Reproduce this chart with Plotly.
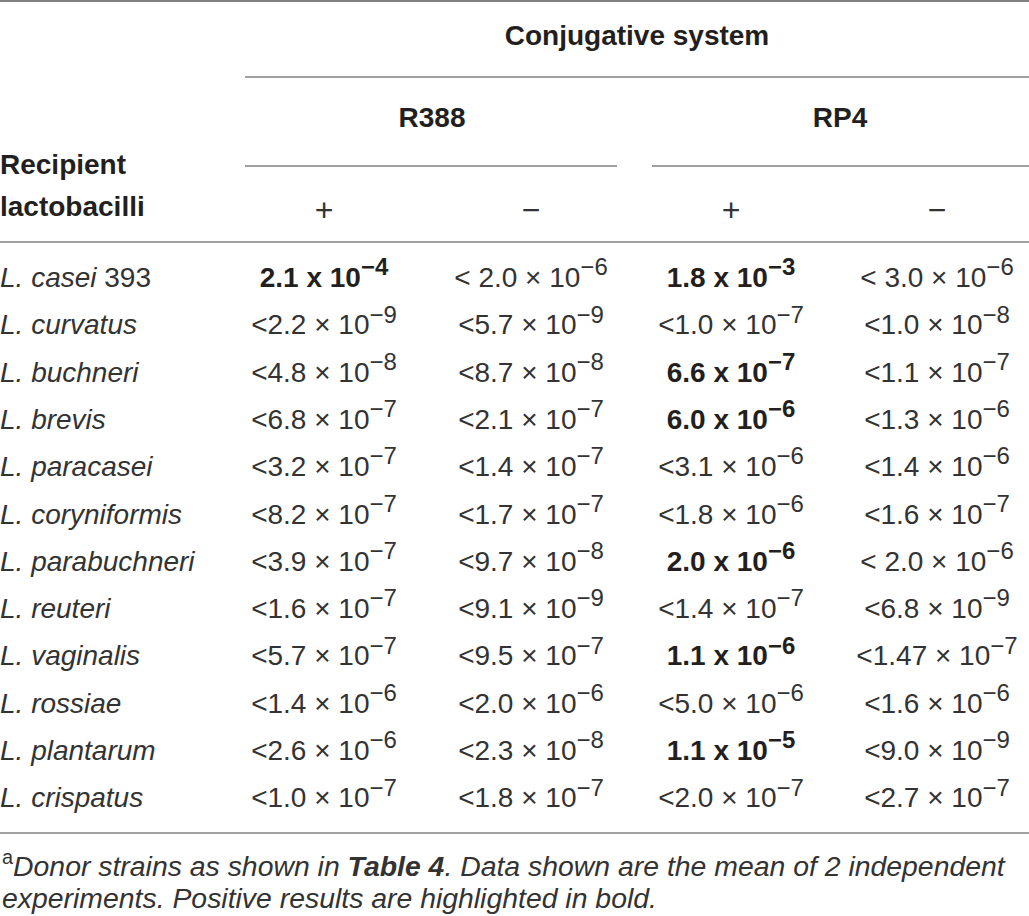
import plotly.graph_objects as go

# ---------------- data ----------------
species = ["casei", "curvatus", "buchneri", "brevis", "paracasei", "coryniformis",
           "parabuchneri", "reuteri", "vaginalis", "rossiae", "plantarum", "crispatus"]
species_suffix = [" 393", "", "", "", "", "", "", "", "", "", "", ""]

# each column: prefix, mantissa, exponent, positive(bold)
r388_plus_prefix = ["", "<", "<", "<", "<", "<", "<", "<", "<", "<", "<", "<"]
r388_plus_mant = ["2.1", "2.2", "4.8", "6.8", "3.2", "8.2", "3.9", "1.6", "5.7", "1.4", "2.6", "1.0"]
r388_plus_exp = [-4, -9, -8, -7, -7, -7, -7, -7, -7, -6, -6, -7]
r388_plus_pos = [True, False, False, False, False, False, False, False, False, False, False, False]

r388_minus_prefix = ["< ", "<", "<", "<", "<", "<", "<", "<", "<", "<", "<", "<"]
r388_minus_mant = ["2.0", "5.7", "8.7", "2.1", "1.4", "1.7", "9.7", "9.1", "9.5", "2.0", "2.3", "1.8"]
r388_minus_exp = [-6, -9, -8, -7, -7, -7, -8, -9, -7, -6, -8, -7]
r388_minus_pos = [False] * 12

rp4_plus_prefix = ["", "<", "", "", "<", "<", "", "<", "", "<", "", "<"]
rp4_plus_mant = ["1.8", "1.0", "6.6", "6.0", "3.1", "1.8", "2.0", "1.4", "1.1", "5.0", "1.1", "2.0"]
rp4_plus_exp = [-3, -7, -7, -6, -6, -6, -6, -7, -6, -6, -5, -7]
rp4_plus_pos = [True, False, True, True, False, False, True, False, True, False, True, False]

rp4_minus_prefix = ["< ", "<", "<", "<", "<", "<", "< ", "<", "<", "<", "<", "<"]
rp4_minus_mant = ["3.0", "1.0", "1.1", "1.3", "1.4", "1.6", "2.0", "6.8", "1.47", "1.6", "9.0", "2.7"]
rp4_minus_exp = [-6, -8, -7, -6, -6, -7, -6, -9, -7, -6, -9, -7]
rp4_minus_pos = [False] * 12

group_labels = ["R388", "RP4"]
sign_labels = ["+", "\u2212", "+", "\u2212"]
header_title = "Conjugative system"
stub_header = ["Recipient", "lactobacilli"]
footnote_lines = [
    "<sup>a</sup><i>Donor strains as shown in <b>Table 4</b>. Data shown are the mean of 2 independent</i>",
    "<i>experiments. Positive results are highlighted in bold.</i>",
]

# ---------------- layout constants ----------------
W, H = 1029, 916
FONT = "Liberation Sans, Arial, sans-serif"
COLOR = "#231f20"
LIGHT = "#333333"
LINE = "#808080"
FS = 28
col_x = [324, 531, 731, 937]
group_x = [432, 840]
row0, row_step = 280, 47.3


def fmt(prefix, mant, exp, pos):
    e = str(exp).replace("-", "\u2212")
    sup = f"<sup><span style='font-size:24px'>{e}</span></sup>"
    if pos:
        return f"<b>{mant} x 10{sup}</b>"
    return f"{prefix}{mant} \u00d7 10{sup}"


columns = [
    (r388_plus_prefix, r388_plus_mant, r388_plus_exp, r388_plus_pos),
    (r388_minus_prefix, r388_minus_mant, r388_minus_exp, r388_minus_pos),
    (rp4_plus_prefix, rp4_plus_mant, rp4_plus_exp, rp4_plus_pos),
    (rp4_minus_prefix, rp4_minus_mant, rp4_minus_exp, rp4_minus_pos),
]

row_y = [row0 + i * row_step for i in range(len(species))]

fig = go.Figure()

# row labels
fig.add_trace(go.Scatter(
    x=[0] * len(species), y=row_y, mode="text",
    text=[f"<i>L. {s}</i>{suf}" for s, suf in zip(species, species_suffix)],
    textposition="middle right",
    textfont=dict(family=FONT, size=FS, color=LIGHT),
    hoverinfo="skip", showlegend=False))

# data cells
for cx, (pre, man, ex, pos) in zip(col_x, columns):
    fig.add_trace(go.Scatter(
        x=[cx] * len(species), y=row_y, mode="text",
        text=[fmt(p, m, e, b) for p, m, e, b in zip(pre, man, ex, pos)],
        textposition="middle center",
        textfont=dict(family=FONT, size=FS, color=[COLOR if b else LIGHT for b in pos]),
        hoverinfo="skip", showlegend=False))

# headers
fig.add_trace(go.Scatter(
    x=[637] + group_x, y=[38, 120, 120], mode="text",
    text=[f"<b>{header_title}</b>"] + [f"<b>{g}</b>" for g in group_labels],
    textposition="middle center",
    textfont=dict(family=FONT, size=FS, color=COLOR),
    hoverinfo="skip", showlegend=False))

fig.add_trace(go.Scatter(
    x=col_x, y=[213] * 4, mode="text", text=sign_labels,
    textposition="middle center",
    textfont=dict(family=FONT, size=FS + 4, color=LIGHT),
    hoverinfo="skip", showlegend=False))

fig.add_trace(go.Scatter(
    x=[0, 0], y=[167, 209], mode="text", text=[f"<b>{s}</b>" for s in stub_header],
    textposition="middle right",
    textfont=dict(family=FONT, size=FS, color=COLOR),
    hoverinfo="skip", showlegend=False))

# rules
lines = [
    (0, W, 1, 2.2), (245, W, 77, 1.3), (245, 617, 166, 1.3), (652, W, 166, 1.3),
    (0, W, 242, 1.3), (0, W, 833, 1.3),
]
for x0, x1, yy, w in lines:
    fig.add_shape(type="line", x0=x0, x1=x1, y0=yy, y1=yy, xref="x", yref="y",
                  line=dict(color=LINE, width=w))

for txt, yy in zip(footnote_lines, [864, 898]):
    fig.add_annotation(
        x=0, y=yy, xref="x", yref="y", xanchor="left", yanchor="middle",
        text=txt, showarrow=False, align="left",
        font=dict(family=FONT, size=28.4, color=LIGHT))

fig.update_xaxes(range=[0, W], visible=False, fixedrange=True)
fig.update_yaxes(range=[H, 0], visible=False, fixedrange=True)
fig.update_layout(width=W, height=H, margin=dict(l=0, r=0, t=0, b=0),
                  plot_bgcolor="white", paper_bgcolor="white")

fig.write_html("out.html", config={"displayModeBar": False},
               post_script="document.body.style.margin='0px';")
